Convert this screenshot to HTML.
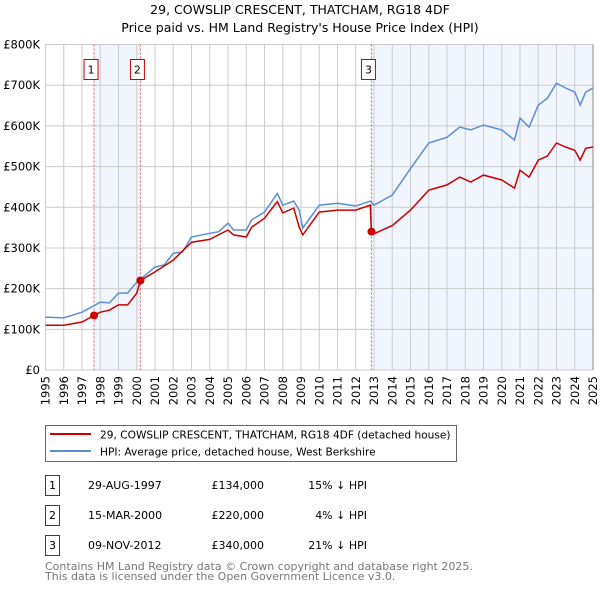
<!DOCTYPE html>
<html><head><meta charset="utf-8"><style>
body{margin:0;background:#fff;width:600px;height:590px;overflow:hidden;font-family:"DejaVu Sans","Liberation Sans",sans-serif;}
svg text{font-family:"DejaVu Sans","Liberation Sans",sans-serif;}
</style></head><body>
<svg id="c" width="600" height="590" xmlns="http://www.w3.org/2000/svg">
<text x="300" y="14" text-anchor="middle" font-size="12.5">29, COWSLIP CRESCENT, THATCHAM, RG18 4DF</text>
<text x="300" y="32" text-anchor="middle" font-size="12.5">Price paid vs. HM Land Registry's House Price Index (HPI)</text>
<g id="plot"></g>
<rect x="45.5" y="425.5" width="411" height="36" fill="#fff" stroke="#666"/>
<line x1="50" y1="434" x2="91" y2="434" stroke="#cc0000" stroke-width="2"/>
<text x="100" y="438.5" font-size="10.6">29, COWSLIP CRESCENT, THATCHAM, RG18 4DF (detached house)</text>
<line x1="50" y1="451" x2="91" y2="451" stroke="#5b8ed6" stroke-width="2"/>
<text x="100" y="455.5" font-size="10.6">HPI: Average price, detached house, West Berkshire</text>
<g id="tbl" font-size="11"></g>
<text x="45" y="570" font-size="11" fill="#777">Contains HM Land Registry data © Crown copyright and database right 2025.</text>
<text x="45" y="580" font-size="11" fill="#777">This data is licensed under the Open Government Licence v3.0.</text>
</svg>
<script>
const years=[1995,1996,1997,1998,1999,2000,2001,2002,2003,2004,2005,2006,2007,2008,2009,2010,2011,2012,2013,2014,2015,2016,2017,2018,2019,2020,2021,2022,2023,2024,2025];
const yTicks=[0,100000,200000,300000,400000,500000,600000,700000,800000];
const yLabels=["£0","£100K","£200K","£300K","£400K","£500K","£600K","£700K","£800K"];
const hpiT=[1995,1996,1997,1997.66,1998,1998.5,1999,1999.5,2000,2001,2001.5,2002,2002.5,2003,2004,2004.5,2005,2005.3,2006,2006.3,2007,2007.7,2008,2008.6,2008.9,2009.1,2010,2011,2012,2012.8,2013,2014,2015,2016,2017,2017.7,2018.3,2019,2020,2020.7,2021,2021.5,2022,2022.5,2023,2023.5,2024,2024.3,2024.6,2025];
const hpiV=[130,128,142,158,167,165,189,189,216,253,258,287,290,327,336,340,361,344,344,369,388,434,405,415,393,349,405,410,403,415,405,430,495,558,572,597,590,602,590,565,619,597,651,668,705,693,683,651,683,693];
const priceT=[1995,1996,1997,1997.66,1998,1998.5,1999,1999.5,2000,2000.2,2001,2002,2003,2004,2005,2005.3,2006,2006.3,2007,2007.7,2008,2008.6,2008.9,2009.1,2010,2011,2012,2012.8,2012.86,2013,2014,2015,2016,2017,2017.7,2018.3,2019,2020,2020.7,2021,2021.5,2022,2022.5,2023,2023.5,2024,2024.3,2024.6,2025];
const priceV=[110,110,118,134,142,147,160,160,189,220,241,270,314,321,344,332,327,351,373,414,386,398,351,332,388,393,393,405,340,335,355,393,442,455,474,462,479,467,447,491,474,516,526,558,548,540,516,545,548];
const saleT=[1997.66,2000.2,2012.86];
const saleV=[134,220,340];
const saleDates=["29-AUG-1997","15-MAR-2000","09-NOV-2012"];
const salePrices=["£134,000","£220,000","£340,000"];
const saleDiff=["15% ↓ HPI","4% ↓ HPI","21% ↓ HPI"];

const X0=45.5,X1=593,Y0=370,Y1=44.5;
const xs=t=>X0+(t-1995)/30*(X1-X0);
const ys=v=>Y0-(v*1000)/800000*(Y0-Y1);
const NS="http://www.w3.org/2000/svg";
const plot=document.getElementById('plot');
function mk(tag,attrs,parent){const e=document.createElementNS(NS,tag);for(const k in attrs)e.setAttribute(k,attrs[k]);(parent||plot).appendChild(e);return e;}

let r=mk('rect',{x:xs(saleT[0]),y:Y1,width:xs(saleT[1])-xs(saleT[0]),height:Y0-Y1,fill:'#eef3fc',opacity:0.8});


r=mk('rect',{x:xs(saleT[2]),y:Y1,width:X1-xs(saleT[2]),height:Y0-Y1,fill:'#eef3fc',opacity:0.8});



years.forEach(y=>{
  const x=xs(y);
  const l=mk('line',{x1:x,y1:Y1,x2:x,y2:Y0,stroke:'#ccc','stroke-width':1});
  
  
  const t=mk('text',{x:0,y:0,'font-size':11.5,'text-anchor':'end',transform:`translate(${x+4},376) rotate(-90)`});
  t.textContent=y;
  
  
});
yTicks.forEach((v,i)=>{
  const y=ys(v/1000);
  const l=mk('line',{x1:X0,y1:y,x2:X1,y2:y,stroke:'#ccc','stroke-width':1});
  
  
  const t=mk('text',{x:40,y:y+4,'font-size':11.5,'text-anchor':'end'});
  t.textContent=yLabels[i];
  
  
});
const rb=mk('line',{x1:X1,y1:Y1,x2:X1,y2:Y0,stroke:'#888','stroke-width':1});



saleT.forEach((t,i)=>{
  const x=xs(t);
  const l=mk('line',{x1:x,y1:Y1,x2:x,y2:Y0,stroke:'#e06060','stroke-width':1,'stroke-dasharray':'2,2'});
  
  
  const b=mk('rect',{x:x-10,y:59.5,width:14,height:20,fill:'#fff',stroke:'#cc0000'});
  
  
  const tx=mk('text',{x:x-3,y:73.5,'font-size':11,'text-anchor':'middle'});
  tx.textContent=i+1;
  
  
});

const hp=mk('path',{d:hpiT.map((t,i)=>(i?'L':'M')+xs(t).toFixed(1)+','+ys(hpiV[i]).toFixed(1)).join(''),fill:'none',stroke:'#5b8ed6','stroke-width':1.5});


const pp=mk('path',{d:priceT.map((t,i)=>(i?'L':'M')+xs(t).toFixed(1)+','+ys(priceV[i]).toFixed(1)).join(''),fill:'none',stroke:'#cc0000','stroke-width':1.5});


saleT.forEach((t,i)=>{
  const c=mk('circle',{cx:xs(t),cy:ys(saleV[i]),r:4,fill:'#cc0000'});
  
  
});

const tbl=document.getElementById('tbl');
saleDates.forEach((d,i)=>{
  const y=475+i*30;
  const b=mk('rect',{x:45.5,y:y+0.5,width:14,height:20,fill:'#fff',stroke:'#cc0000'},tbl);
  
  
  const n=mk('text',{x:52.5,y:y+14,'text-anchor':'middle'},tbl);
  n.textContent=i+1;
  
  
  const a=mk('text',{x:88,y:y+14},tbl);a.textContent=d;
  
  
  const p=mk('text',{x:264,y:y+14,'text-anchor':'end'},tbl);p.textContent=salePrices[i];
  
  
  const h=mk('text',{x:367,y:y+14,'text-anchor':'end'},tbl);h.textContent=saleDiff[i];
  
  
});
</script>
</body></html>
